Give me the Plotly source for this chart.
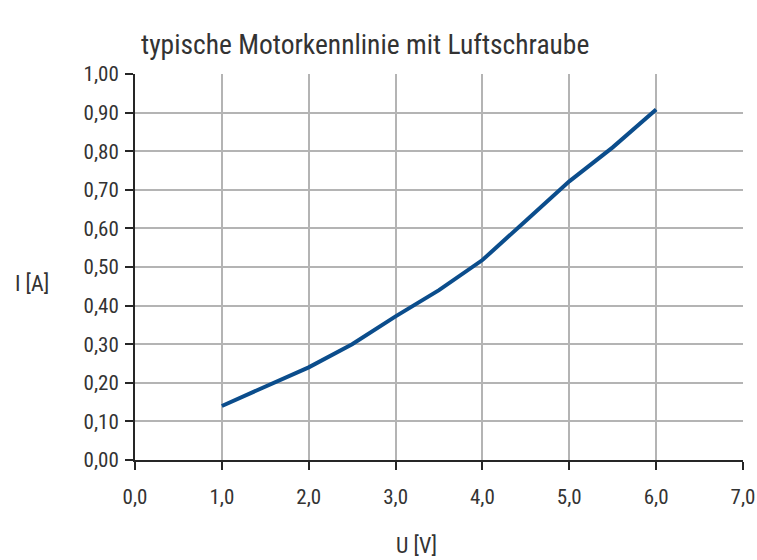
import plotly.graph_objects as go

u_volts = [1.0, 1.5, 2.0, 2.5, 3.0, 3.5, 4.0, 4.5, 5.0, 5.5, 6.0]
i_amps = [0.14, 0.19, 0.24, 0.30, 0.372, 0.44, 0.518, 0.62, 0.722, 0.81, 0.908]

x_ticks = [0, 1, 2, 3, 4, 5, 6, 7]
x_labels = ["0,0", "1,0", "2,0", "3,0", "4,0", "5,0", "6,0", "7,0"]
y_ticks = [0.0, 0.1, 0.2, 0.3, 0.4, 0.5, 0.6, 0.7, 0.8, 0.9, 1.0]
y_labels = ["0,00", "0,10", "0,20", "0,30", "0,40", "0,50", "0,60", "0,70", "0,80", "0,90", "1,00"]

title_text = "typische Motorkennlinie mit Luftschraube"
x_title = "U [V]"
y_title = "I [A]"

font_fam = "Roboto Condensed, DejaVu Sans Condensed, sans-serif"
L, R, T, B = 135, 14, 74, 100
W, H = 757, 560
PW, PH = W - L - R, H - T - B


def px_to_paper(px, py):
    return (px - L) / PW, (H - B - py) / PH


fig = go.Figure()
fig.add_trace(go.Scatter(x=u_volts, y=i_amps, mode="lines",
                         line=dict(color="#0b4d8c", width=4),
                         showlegend=False, hoverinfo="x+y"))

axis_common = dict(showgrid=True, gridcolor="#b4b4b4", gridwidth=2,
                   showline=True, linecolor="#262626", linewidth=2,
                   ticks="outside", ticklen=8, tickwidth=2, tickcolor="#262626",
                   zeroline=False, automargin=False,
                   tickfont=dict(family=font_fam, size=21, color="#333333"))

tx, ty = px_to_paper(365, 45)
ax_, ay_ = px_to_paper(32, 283)
bx, by = px_to_paper(416, 545)

fig.update_layout(
    width=W, height=H,
    margin=dict(l=L, r=R, t=T, b=B),
    paper_bgcolor="white", plot_bgcolor="white",
    font=dict(family=font_fam, size=21, color="#333333"),
    xaxis=dict(range=[0, 7], tickvals=x_ticks, ticktext=x_labels,
               ticklabelstandoff=9, **axis_common),
    yaxis=dict(range=[0, 1], tickvals=y_ticks, ticktext=y_labels,
               ticklabelstandoff=2, **axis_common),
    annotations=[
        dict(text=title_text, x=tx, y=ty, xref="paper", yref="paper",
             xanchor="center", yanchor="middle", showarrow=False,
             font=dict(size=27.5)),
        dict(text=y_title, x=ax_, y=ay_, xref="paper", yref="paper",
             xanchor="center", yanchor="middle", showarrow=False,
             font=dict(size=22)),
        dict(text=x_title, x=bx, y=by, xref="paper", yref="paper",
             xanchor="center", yanchor="middle", showarrow=False,
             font=dict(size=22)),
    ],
)

fig.write_html("out.html", config={"displayModeBar": False},
               post_script="document.body.style.margin='0';")
